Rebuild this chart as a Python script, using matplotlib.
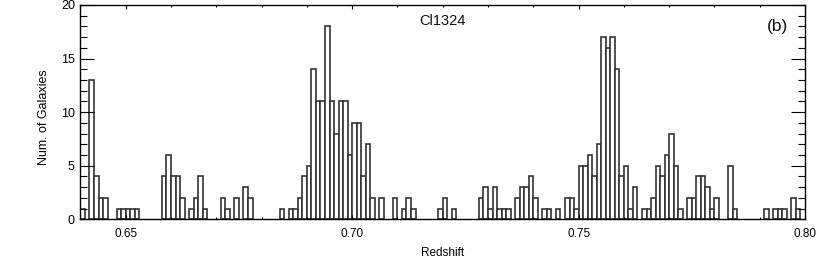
import matplotlib
matplotlib.use("Agg")
import matplotlib.pyplot as plt
from matplotlib.ticker import MultipleLocator, FixedLocator
import numpy as np

# Histogram of redshifts, bins of 0.001 starting at 0.639
bin_start = 0.639
bin_width = 0.001
counts = [
    3,                                  # 0.639
    1, 0, 13, 4, 2, 2, 0, 0, 1, 1,      # 0.640-0.649
    1, 1, 1, 0, 0, 0, 0, 0, 4, 6,       # 0.650-0.659
    4, 4, 2, 0, 1, 2, 4, 1, 0, 0,       # 0.660-0.669
    0, 2, 1, 0, 2, 0, 3, 2, 0, 0,       # 0.670-0.679
    0, 0, 0, 0, 1, 0, 1, 1, 2, 4,       # 0.680-0.689
    5, 14, 11, 11, 18, 11, 8, 11, 11, 6,  # 0.690-0.699
    9, 9, 4, 7, 2, 0, 2, 0, 0, 2,       # 0.700-0.709
    0, 1, 2, 1, 0, 0, 0, 0, 0, 1,       # 0.710-0.719
    2, 0, 1, 0, 0, 0, 0, 0, 2, 3,       # 0.720-0.729
    1, 3, 1, 1, 1, 0, 2, 3, 3, 4,       # 0.730-0.739
    2, 0, 1, 1, 0, 1, 0, 2, 2, 1,       # 0.740-0.749
    5, 5, 6, 4, 7, 17, 16, 17, 14, 4,   # 0.750-0.759
    5, 1, 3, 0, 1, 1, 2, 5, 4, 6,       # 0.760-0.769
    8, 5, 1, 0, 2, 2, 4, 4, 3, 1,       # 0.770-0.779
    2, 0, 0, 5, 1, 0, 0, 0, 0, 0,       # 0.780-0.789
    0, 1, 0, 1, 1, 1, 0, 2, 1, 0,       # 0.790-0.799
]
x_ticks = [0.65, 0.70, 0.75, 0.80]
x_tick_labels = ["0.65", "0.70", "0.75", "0.80"]
y_ticks = [0, 5, 10, 15, 20]
title_text = "Cl1324"
panel_text = "(b)"
x_label = "Redshift"
y_label = "Num. of Galaxies"

plt.rcParams['font.family'] = ['Liberation Sans', 'DejaVu Sans']

fig = plt.figure(figsize=(8.30, 2.61), dpi=100)
ax = fig.add_axes([0.0969, 0.160, 0.873, 0.821])

lefts = bin_start + bin_width * np.arange(len(counts))
vals = np.array(counts, dtype=float)
mask = vals > 0
ax.bar(lefts[mask], vals[mask], width=bin_width, align='edge',
       facecolor='white', edgecolor='#333333', linewidth=1.2)

ax.set_xlim(0.64, 0.80)
ax.set_ylim(0, 20)

ax.xaxis.set_major_locator(FixedLocator(x_ticks))
ax.set_xticklabels(x_tick_labels)
ax.xaxis.set_minor_locator(MultipleLocator(0.01))
ax.yaxis.set_major_locator(FixedLocator(y_ticks))
ax.yaxis.set_minor_locator(MultipleLocator(1))

ax.tick_params(axis='x', which='major', direction='in', length=3, width=0.8,
               top=True, bottom=True, labelsize=8.5, pad=6, colors='black')
ax.tick_params(axis='x', which='minor', direction='in', length=1.7, width=0.8,
               top=True, bottom=True)
ax.tick_params(axis='y', which='major', direction='in', length=10, width=0.8,
               left=True, right=True, labelsize=9, pad=4)
ax.tick_params(axis='y', which='minor', direction='in', length=5, width=0.8,
               left=True, right=True)

for s in ax.spines.values():
    s.set_linewidth(1.0)
    s.set_color('black')

ax.text(0.5, 0.925, title_text, transform=ax.transAxes, ha='center',
        va='center', fontsize=10.5, color='#111111')
ax.text(0.977, 0.90, panel_text, transform=ax.transAxes, ha='right',
        va='center', fontsize=12.5, color='#111111')

ax.set_xlabel(x_label, fontsize=8.5, labelpad=5)
fig.text(0.053, 0.55, y_label, rotation=90, ha='center', va='center',
         fontsize=9)

fig.savefig("out.png", dpi=100)
